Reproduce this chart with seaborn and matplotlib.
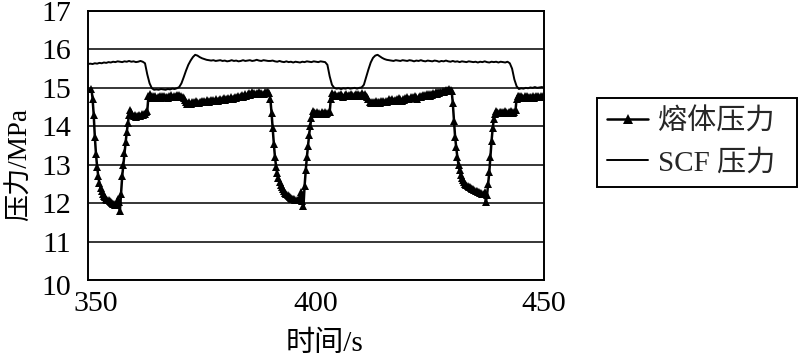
import matplotlib
matplotlib.use('Agg')
import matplotlib.pyplot as plt
import matplotlib.transforms as mtransforms
import numpy as np
import pandas as pd
import seaborn as sns

x_ticks = [350, 400, 450]
y_ticks = [10, 11, 12, 13, 14, 15, 16, 17]
labels = ['熔体压力', 'SCF 压力']

# melt pressure, one sample every 0.25 s starting at 350.75 s
melt_start, melt_step = 350.75, 0.25
melt_pressure = [
    # 350.75 - 359.0  drop / trough / rise
    14.98, 14.72, 14.3, 13.72, 13.28, 12.95, 12.7, 12.52, 12.4, 12.31,
    12.24, 12.19, 12.15, 12.12, 12.09, 12.07, 12.05, 12.03, 12.01, 11.99,
    11.97, 11.96, 11.95, 12.12, 12.02, 11.8, 12.25, 12.7, 13.0, 13.3,
    13.58, 13.85, 14.08, 14.3,
    # 359.25 - 363.0
    14.42, 14.36, 14.3, 14.27, 14.29, 14.25, 14.28, 14.26, 14.3, 14.28,
    14.31, 14.3, 14.33, 14.31, 14.36, 14.4,
    # 363.25 - 371.25
    14.78, 14.84, 14.8, 14.74, 14.78, 14.75, 14.79, 14.73, 14.77, 14.75,
    14.79, 14.74, 14.78, 14.76, 14.8, 14.75, 14.77, 14.74, 14.79, 14.76,
    14.81, 14.77, 14.8, 14.76, 14.79, 14.82, 14.78, 14.81, 14.77, 14.8,
    14.76, 14.74, 14.68,
    # 371.5 - 389.75
    14.62, 14.58, 14.6, 14.63, 14.59, 14.62, 14.6, 14.64, 14.61, 14.65,
    14.62, 14.6, 14.64, 14.62, 14.66, 14.63,
    14.67, 14.64, 14.68, 14.65, 14.62, 14.66, 14.69, 14.65, 14.68, 14.66,
    14.7, 14.67, 14.65, 14.69, 14.72, 14.68,
    14.7, 14.73, 14.69, 14.72, 14.7, 14.74, 14.71, 14.75, 14.72, 14.7,
    14.74, 14.77, 14.73, 14.76, 14.79, 14.75,
    14.78, 14.81, 14.77, 14.8, 14.84, 14.8, 14.83, 14.87, 14.82, 14.85,
    14.88, 14.84, 14.86, 14.83, 14.87, 14.85,
    14.88, 14.84, 14.86, 14.83, 14.85, 14.89, 14.86, 14.88, 14.9, 14.86,
    # 390.0 - 399.25
    14.7, 14.35, 13.95, 13.55, 13.2, 12.95, 12.78, 12.65, 12.55, 12.47,
    12.41, 12.36, 12.31, 12.27, 12.23, 12.2, 12.18, 12.16, 12.14, 12.12,
    12.1, 12.1, 12.09, 12.08, 12.08, 12.07, 12.15, 12.3, 12.05, 11.92,
    12.45, 12.85, 13.2, 13.5, 13.78, 14.02, 14.22, 14.4,
    # 399.5 - 403.0
    14.38, 14.35, 14.33, 14.36, 14.32, 14.35, 14.33, 14.37, 14.34, 14.32,
    14.36, 14.33, 14.35, 14.38, 14.36,
    # 403.25 - 411.5
    14.72, 14.86, 14.82, 14.79, 14.83, 14.8, 14.78, 14.82, 14.79, 14.83,
    14.8, 14.77, 14.81, 14.84, 14.8, 14.78, 14.82, 14.79, 14.83, 14.81,
    14.78, 14.82, 14.85, 14.8, 14.83, 14.79, 14.82, 14.86, 14.82, 14.8,
    14.84, 14.8, 14.76, 14.7,
    # 411.75 - 429.75
    14.63, 14.6, 14.64, 14.61, 14.63, 14.6, 14.65, 14.62, 14.64, 14.61,
    14.66, 14.63, 14.65, 14.62, 14.67, 14.64,
    14.66, 14.7, 14.65, 14.68, 14.72, 14.67, 14.69, 14.66, 14.71, 14.68,
    14.73, 14.7, 14.67, 14.72, 14.69, 14.74,
    14.71, 14.75, 14.72, 14.7, 14.76, 14.73, 14.77, 14.74, 14.78, 14.75,
    14.72, 14.77, 14.8, 14.76, 14.79, 14.82,
    14.78, 14.81, 14.84, 14.8, 14.83, 14.79, 14.85, 14.82, 14.86, 14.83,
    14.88, 14.85, 14.89, 14.86, 14.9, 14.88,
    14.92, 14.89, 14.93, 14.95, 14.91, 14.94, 14.97, 14.95, 14.92,
    # 430.0 - 439.25
    14.6, 14.15, 13.73, 13.45, 13.2, 13.0, 12.86, 12.74, 12.66, 12.6,
    12.55, 12.51, 12.47, 12.45, 12.43, 12.41, 12.39, 12.37, 12.36, 12.34,
    12.32, 12.31, 12.29, 12.28, 12.27, 12.26, 12.25, 12.24, 12.3, 12.02,
    12.2, 12.5, 12.8, 13.2, 13.62, 13.95, 14.18, 14.32,
    # 439.5 - 443.75
    14.4, 14.37, 14.35, 14.38, 14.36, 14.34, 14.37, 14.35, 14.39, 14.36,
    14.34, 14.38, 14.36, 14.4, 14.37, 14.35, 14.38, 14.42,
    # 444.0 - 450.0
    14.72, 14.8, 14.78, 14.75, 14.79, 14.76, 14.74, 14.78, 14.75, 14.79,
    14.76, 14.73, 14.77, 14.75, 14.78, 14.74, 14.77, 14.79, 14.75, 14.78,
    14.76, 14.79, 14.77, 14.8, 14.78,
]

# SCF pressure, one sample every 0.5 s starting at 350 s
scf_start, scf_step = 350.0, 0.5
scf_pressure = [
    15.62, 15.63, 15.62, 15.64, 15.63, 15.65, 15.64, 15.66, 15.65, 15.67,
    15.66, 15.68, 15.67, 15.69, 15.68, 15.67, 15.69, 15.68, 15.7, 15.68,
    15.69, 15.67, 15.68, 15.7, 15.68, 15.64,
    15.35, 15.12, 14.99, 14.95,
    14.96, 14.95, 14.97, 14.96, 14.95, 14.97, 14.96, 14.98, 14.97, 14.99,
    15.02, 15.12, 15.28, 15.45, 15.6, 15.71, 15.8, 15.86, 15.84, 15.8,
    15.77, 15.75, 15.73, 15.72, 15.71, 15.72, 15.7, 15.71, 15.72, 15.7,
    15.71, 15.69, 15.7, 15.72, 15.7, 15.71, 15.69, 15.7, 15.72, 15.7,
    15.71, 15.72, 15.7, 15.71, 15.73, 15.71, 15.7, 15.72, 15.71, 15.7,
    15.7, 15.71, 15.69, 15.68, 15.7, 15.68, 15.67, 15.69, 15.67, 15.68,
    15.66, 15.68, 15.67, 15.66, 15.68, 15.67, 15.69, 15.68, 15.67, 15.69,
    15.68, 15.67, 15.69, 15.68, 15.67, 15.6,
    15.3, 15.08, 15.0,
    14.98, 14.99, 14.97, 14.99, 14.98, 15.0, 14.98, 14.99, 15.0, 14.98, 15.0,
    15.01, 15.08, 15.28, 15.48, 15.66, 15.78, 15.84, 15.86, 15.82, 15.78,
    15.75, 15.73, 15.72, 15.71, 15.7, 15.72, 15.71, 15.7, 15.72, 15.71,
    15.7, 15.72, 15.71, 15.69, 15.71, 15.7, 15.72, 15.7, 15.69, 15.71,
    15.7, 15.69, 15.71, 15.7, 15.68, 15.7, 15.69, 15.71, 15.69, 15.68,
    15.7, 15.68, 15.69, 15.67, 15.69, 15.68, 15.67, 15.69, 15.68, 15.67,
    15.68, 15.66, 15.68, 15.67, 15.69, 15.67, 15.66, 15.68, 15.67, 15.68,
    15.66, 15.68, 15.67, 15.66, 15.68, 15.64,
    15.5, 15.22, 15.04, 14.97,
    14.99, 14.98, 15.0, 14.99, 15.01, 15.0, 15.02, 15.0, 15.01, 15.02,
    15.01,
]


def main():
    sns.set_theme(style='white')
    plt.rcParams['font.family'] = ['Liberation Serif', 'Noto Sans CJK SC']
    plt.rcParams['axes.unicode_minus'] = False

    melt_df = pd.DataFrame({
        'time': melt_start + melt_step * np.arange(len(melt_pressure)),
        'pressure': melt_pressure})
    scf_df = pd.DataFrame({
        'time': scf_start + scf_step * np.arange(len(scf_pressure)),
        'pressure': scf_pressure})

    fig = plt.figure(figsize=(7.98, 3.59), dpi=100)
    ax = fig.add_axes([88 / 798, 79 / 359, 456 / 798, 269 / 359])

    sns.lineplot(data=melt_df, x='time', y='pressure', ax=ax,
                 estimator=None, sort=False, color='black', linewidth=1.8,
                 marker='^', markersize=5.5, markeredgewidth=0,
                 label=labels[0])
    sns.lineplot(data=scf_df, x='time', y='pressure', ax=ax,
                 estimator=None, sort=False, color='black', linewidth=1.4,
                 label=labels[1])

    ax.set_xlim(350, 450)
    ax.set_ylim(10, 17)
    ax.set_xticks(x_ticks)
    ax.set_yticks(y_ticks)
    ax.set_xticklabels([str(v) for v in x_ticks])
    ax.set_yticklabels([str(v) for v in y_ticks])

    ax.yaxis.grid(True, color='black', linewidth=1.1)
    ax.xaxis.grid(False)
    for sp in ax.spines.values():
        sp.set_color('black')
        sp.set_linewidth(1.4)

    ax.tick_params(axis='x', direction='in', length=5, width=1,
                   colors='black', labelsize=21.5, pad=8)
    ax.tick_params(axis='y', length=0, colors='black', labelsize=21.5, pad=12)

    # nudge the corner labels like the original
    lab350 = ax.xaxis.get_major_ticks()[0].label1
    lab350.set_transform(lab350.get_transform() +
                         mtransforms.ScaledTranslation(0.08, 0, fig.dpi_scale_trans))
    lab10 = ax.yaxis.get_major_ticks()[0].label1
    lab10.set_transform(lab10.get_transform() +
                        mtransforms.ScaledTranslation(0, -0.05, fig.dpi_scale_trans))

    ax.set_xlabel('时间/s', fontsize=21, color='black')
    ax.set_ylabel('压力/MPa', fontsize=19.5, color='black')
    ax.xaxis.set_label_coords(0.518, -0.19)
    ax.yaxis.set_label_coords(-0.122, 0.43)

    leg = ax.legend(loc='upper left',
                    bbox_to_anchor=(597 / 798, 167 / 359, 200 / 798, 94 / 359),
                    bbox_transform=fig.transFigure, mode='expand',
                    fontsize=21, frameon=True, fancybox=False,
                    edgecolor='black', framealpha=1, borderaxespad=0,
                    borderpad=0.35, handlelength=1.4, handletextpad=0.35,
                    labelspacing=0.5)
    leg.get_frame().set_linewidth(1.4)
    for line in leg.get_lines():
        line.set_markersize(7)

    fig.savefig('out.png', dpi=100)
    plt.close(fig)


if __name__ == '__main__':
    main()
